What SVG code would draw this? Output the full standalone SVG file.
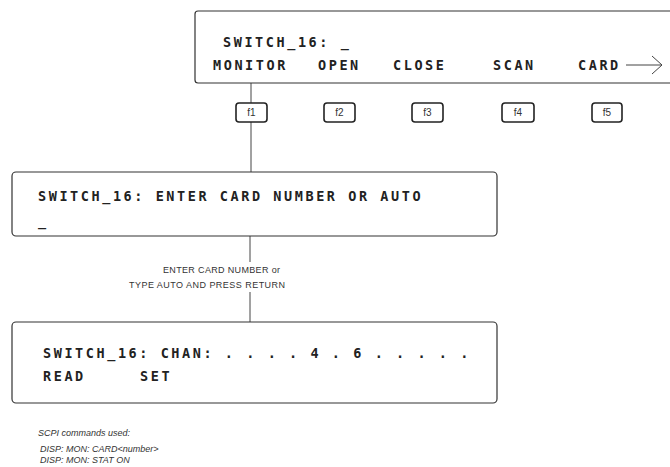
<svg xmlns="http://www.w3.org/2000/svg" width="670" height="467" viewBox="0 0 670 467">
<style>
.box{fill:#fff;stroke:#333;stroke-width:1.2}
.key{fill:#fff;stroke:#222;stroke-width:1.6}
.lcd{font-family:"DejaVu Sans Mono",monospace;font-weight:bold;font-size:13.5px;fill:#222;letter-spacing:2.57px}
.kt{font-family:"Liberation Sans",sans-serif;font-size:10px;fill:#333;text-anchor:middle}
.lbl{font-family:"Liberation Sans",sans-serif;font-size:9px;fill:#333}
.note{font-family:"Liberation Sans",sans-serif;font-style:italic;font-size:9px;fill:#333}
.ln{stroke:#444;stroke-width:1;fill:none}
</style>
<g id="connectors">
<line class="ln" x1="251" y1="83" x2="251" y2="103"/>
<line class="ln" x1="251" y1="122" x2="251" y2="172"/>
<line class="ln" x1="250" y1="236" x2="250" y2="262"/>
<line class="ln" x1="250" y1="292" x2="250" y2="322"/>
<text class="lbl" x="163" y="273" textLength="117" lengthAdjust="spacing">ENTER CARD NUMBER or</text>
<text class="lbl" x="129" y="288" textLength="156" lengthAdjust="spacing">TYPE AUTO AND PRESS RETURN</text>
</g>
<g id="menu">
<rect class="box" x="195" y="11" width="490" height="72" rx="3"/>
<text class="lcd" x="223" y="47">SWITCH_16: _</text>
<text class="lcd" x="213" y="70">MONITOR</text>
<text class="lcd" x="318" y="70">OPEN</text>
<text class="lcd" x="393" y="70">CLOSE</text>
<text class="lcd" x="493" y="70">SCAN</text>
<text class="lcd" x="578" y="70">CARD</text>
<path class="ln" d="M626 65 H662 M652 56 L662 65 L652 74" stroke-width="1.3"/>
</g>
<g id="f1"><rect class="key" x="236" y="103" width="31" height="19" rx="3"/><text class="kt" x="251.5" y="116">f1</text></g>
<g id="f2"><rect class="key" x="324" y="103" width="31" height="19" rx="3"/><text class="kt" x="339.5" y="116">f2</text></g>
<g id="f3"><rect class="key" x="412" y="103" width="31" height="19" rx="3"/><text class="kt" x="427.5" y="116">f3</text></g>
<g id="f4"><rect class="key" x="502" y="103" width="32" height="19" rx="3"/><text class="kt" x="518" y="116">f4</text></g>
<g id="f5"><rect class="key" x="592" y="103" width="30" height="19" rx="3"/><text class="kt" x="607" y="116">f5</text></g>
<g id="enter">
<rect class="box" x="12" y="172" width="485" height="64" rx="4"/>
<text class="lcd" x="38" y="201">SWITCH_16: ENTER CARD NUMBER OR AUTO</text>
<text class="lcd" x="38" y="226">_</text>
</g>
<g id="chan">
<rect class="box" x="12" y="322" width="485" height="81" rx="4"/>
<text class="lcd" x="43" y="358">SWITCH_16: CHAN: . . . . 4 . 6 . . . . .</text>
<text class="lcd" x="43" y="381">READ</text>
<text class="lcd" x="140" y="381">SET</text>
</g>
<g id="notes">
<text class="note" x="38" y="436">SCPI commands used:</text>
<text class="note" x="40" y="452">DISP: MON: CARD&lt;number&gt;</text>
<text class="note" x="40" y="463">DISP: MON: STAT ON</text>
</g>
</svg>
